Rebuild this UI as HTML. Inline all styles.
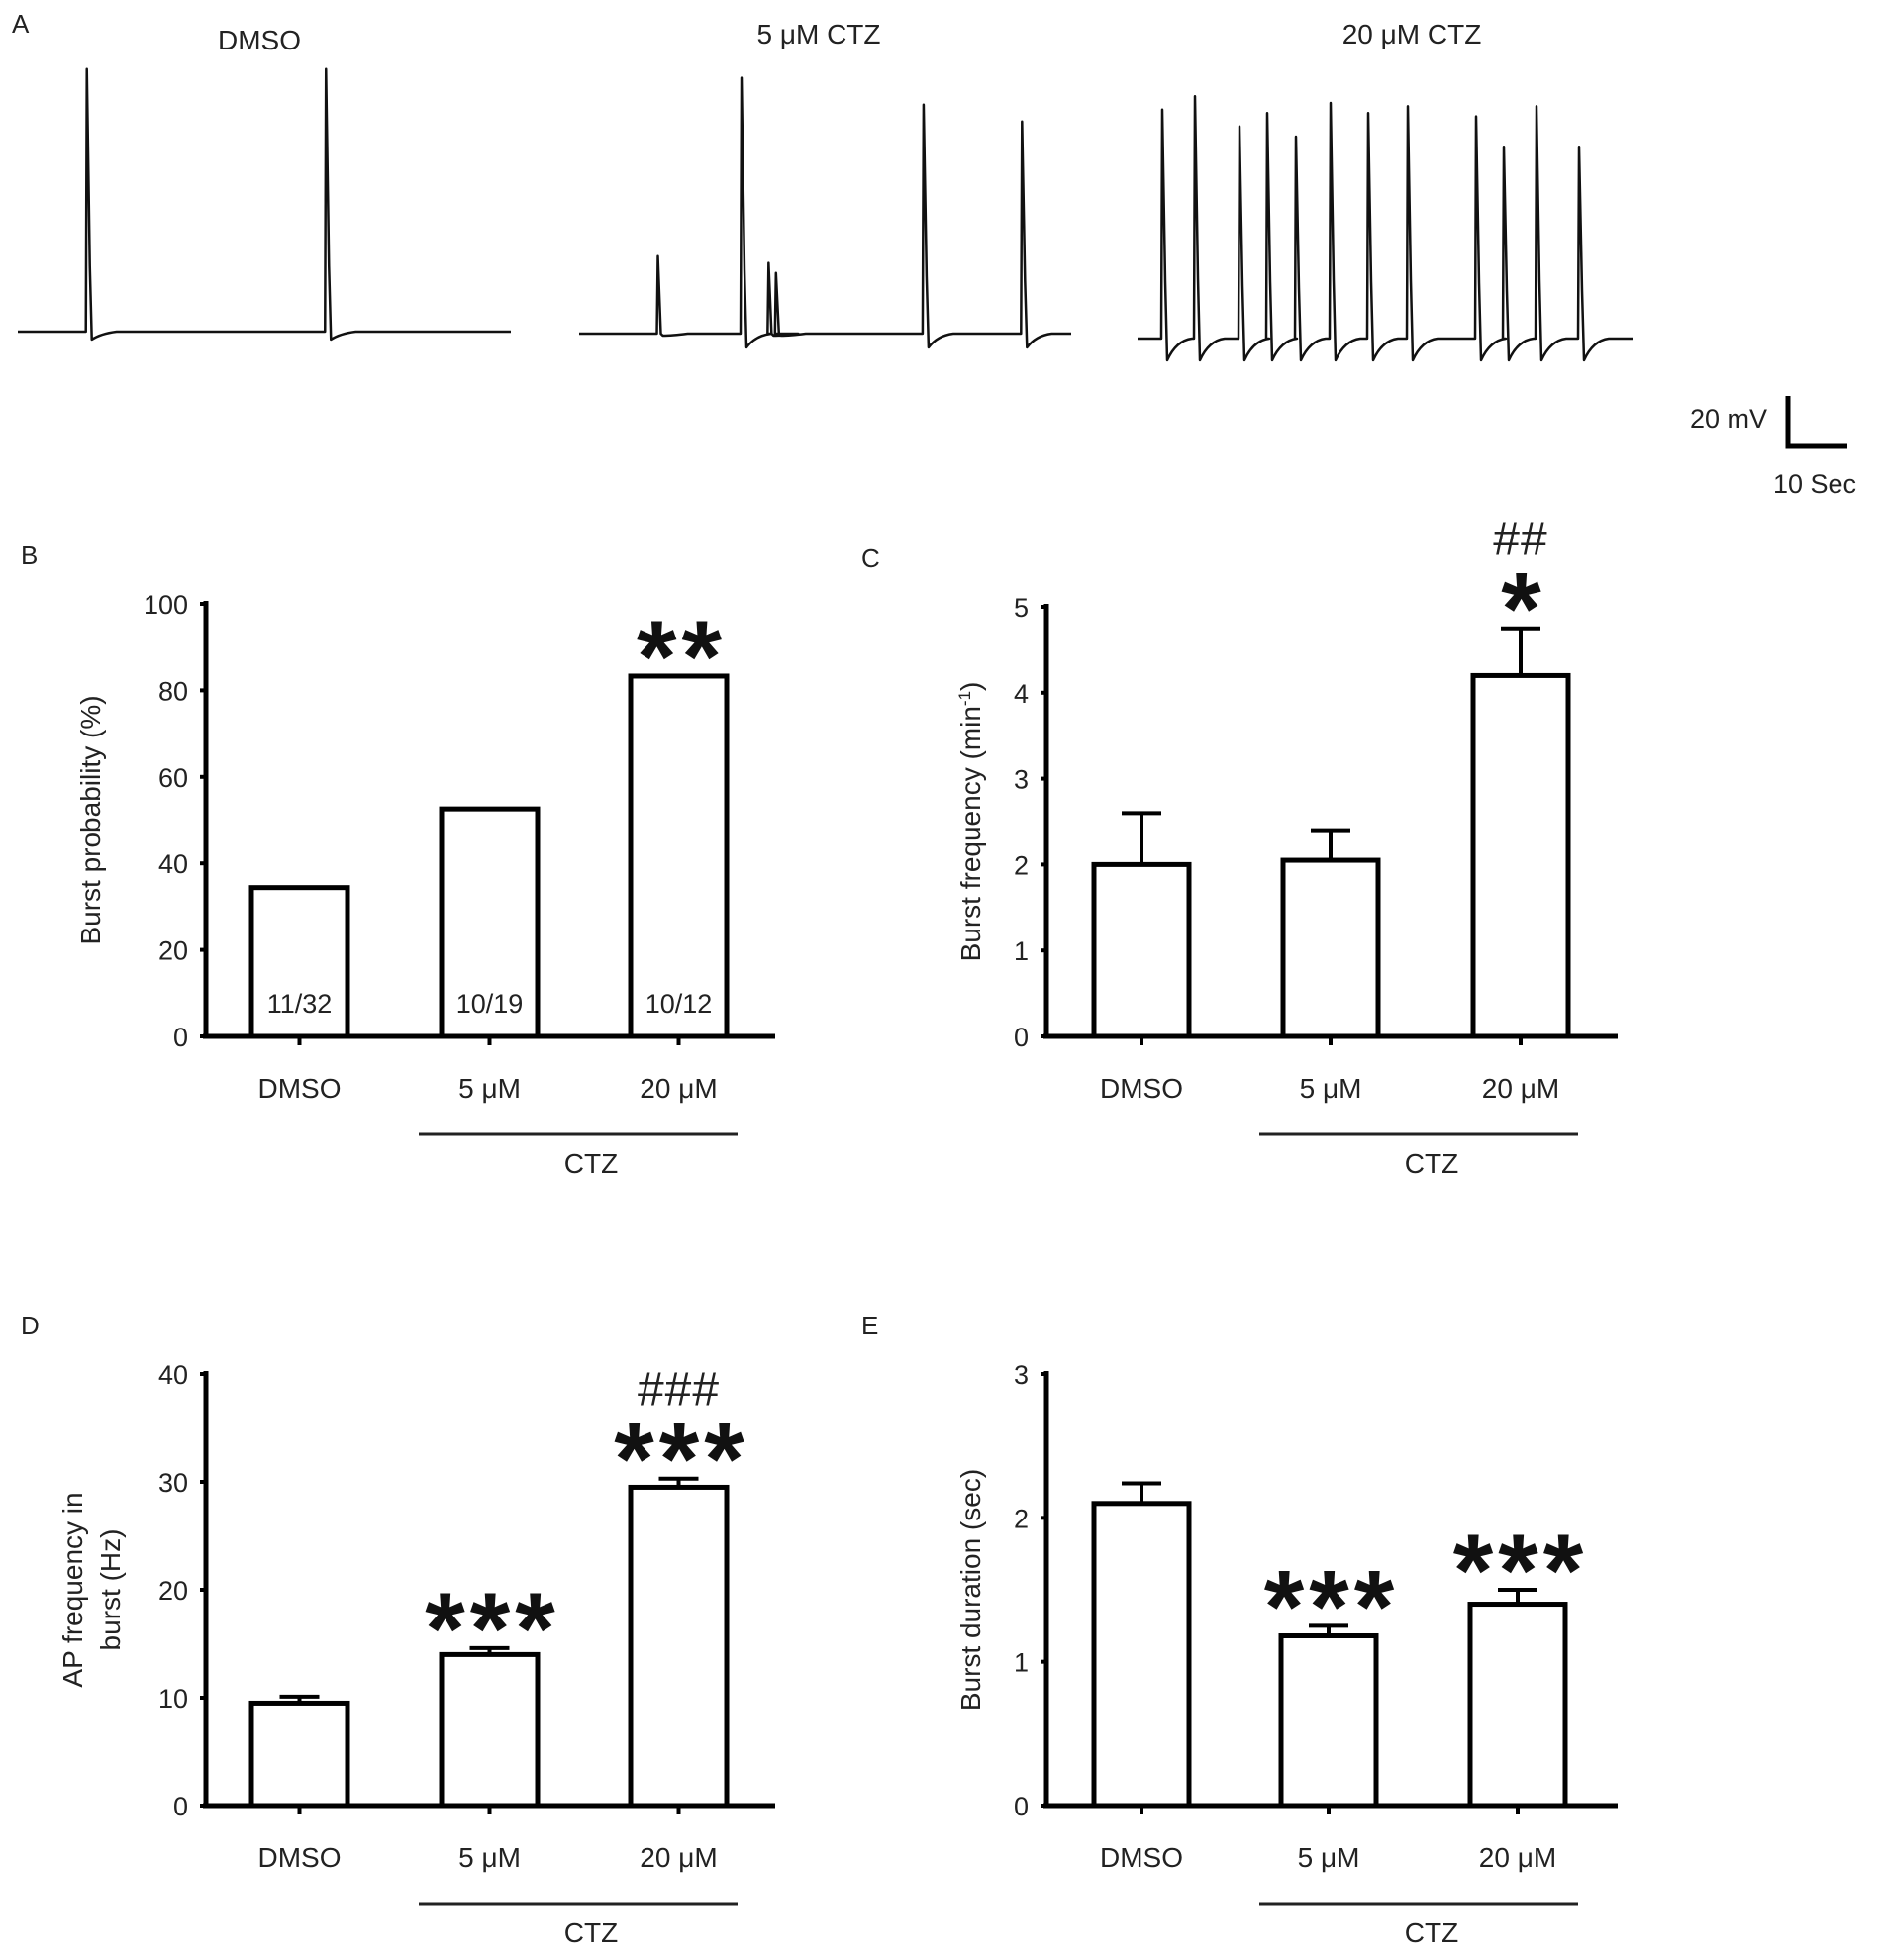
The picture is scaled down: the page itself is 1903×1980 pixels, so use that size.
<!DOCTYPE html>
<html><head><meta charset="utf-8"><style>
html,body{margin:0;padding:0;background:#fff;}
svg{display:block;font-family:"Liberation Sans",Arial,sans-serif;}
</style></head><body>
<svg id="fig" width="1903" height="1980" viewBox="0 0 1903 1980">
<g id="panelA"></g>
<g id="charts"></g>
</svg>
<script>
const NS='http://www.w3.org/2000/svg';
// ----- data -----
const categories=['DMSO','5 \u03bcM','20 \u03bcM'];
const probValues=[34.4,52.6,83.3];
const probCounts=['11/32','10/19','10/12'];
const freqValues=[2.0,2.05,4.2];
const freqErrors=[0.6,0.35,0.55];
const apValues=[9.5,14.0,29.5];
const apErrors=[0.6,0.6,0.8];
const durValues=[2.1,1.18,1.4];
const durErrors=[0.14,0.07,0.1];
const probTicks=[0,20,40,60,80,100];
const freqTicks=[0,1,2,3,4,5];
const apTicks=[0,10,20,30,40];
const durTicks=[0,1,2,3];
// trace spikes: [time fraction, peak height, gray?]
const dmsoSpikes=[[0.14,78,0],[0.625,78,0]];
const ctz5Spikes=[[0.16,23,0],[0.33,76,0],[0.385,21,0],[0.40,18,0],[0.70,68,0],[0.90,63,1]];
const ctz20Spikes=[[0.05,68,0],[0.116,72,0],[0.206,63,0],[0.262,67,0],[0.32,60,0],[0.39,70,0],[0.466,67,0],[0.546,69,0],[0.684,66,0],[0.74,57,1],[0.806,69,0],[0.892,57,1]];

function el(tag,attrs,parent,text){const e=document.createElementNS(NS,tag);for(const k in attrs)e.setAttribute(k,attrs[k]);if(text!==undefined)e.textContent=text;parent.appendChild(e);return e;}

// ----- panel A -----
const A=document.getElementById('panelA');
function label(txt,x,y,size,name,anchor){const t=el('text',{x:x,y:y,'font-size':size,'text-anchor':anchor||'start',fill:'#222'},A,txt);return t;}
label('A',12,33,26,'panel-a-label');
label('DMSO',262,50,28,'trace-title-dmso','middle');
label('5 \u03bcM CTZ',827,44,28,'trace-title-5um','middle');
label('20 \u03bcM CTZ',1426,44,28,'trace-title-20um','middle');
function trace(x0,x1,base,spikes,name,deep){
  const g=el('g',{},A);
  
  
  const w=x1-x0;const scale=3.4;
  let d='M'+x0+' '+base;
  const sorted=spikes.slice().sort((a,b)=>a[0]-b[0]);
  for(const s of sorted){
    const sx=x0+s[0]*w;
    d+=' L'+(sx-1)+' '+base;
    d+=' L'+sx+' '+(base-s[1]*scale)+' L'+(sx+3)+' '+(base-(s[1]>40?s[1]*0.25*scale:0))+' L'+(sx+5)+' '+(base+(s[1]>40?deep:2));
    d+=' Q'+(sx+14)+' '+(base+2)+' '+(sx+30)+' '+base;
  }
  d+=' L'+x1+' '+base;
  const p=el('path',{d:d,fill:'none',stroke:'#111','stroke-width':2.5,'stroke-linejoin':'round'},g);
  
  
}
trace(18,516,335,dmsoSpikes,'trace-dmso',8);
trace(585,1082,337,ctz5Spikes,'trace-5um',14);
trace(1149,1649,342,ctz20Spikes,'trace-20um',22);
const sb=el('path',{d:'M1806 400 L1806 451 L1866 451',fill:'none',stroke:'#000','stroke-width':5},A);


label('20 mV',1785,432,27,'scale-bar-mv','end');
label('10 Sec',1833,498,27,'scale-bar-sec','middle');

// ----- bar charts -----
const C=document.getElementById('charts');
function chart(o){
  const g=el('g',{},C);
  
  
  const ys=v=>o.y0-(v-o.ticks[0])/(o.ticks[o.ticks.length-1]-o.ticks[0])*(o.y0-o.yTop);
  const pl=el('text',{x:o.ax-187,y:o.yTop-40,'font-size':26,fill:'#222'},g,o.panel);
  
  
  const ya=el('line',{x1:o.ax,y1:o.yTop-3,x2:o.ax,y2:o.y0,stroke:'#000','stroke-width':5},g);
  
  
  const xa=el('line',{x1:o.ax-3,y1:o.y0,x2:o.axEnd,y2:o.y0,stroke:'#000','stroke-width':5},g);
  
  
  o.ticks.forEach(t=>{
    const y=ys(t);
    const tk=el('line',{x1:o.ax-6,y1:y,x2:o.ax,y2:y,stroke:'#000','stroke-width':4},g);
    
    
    const tl=el('text',{x:o.ax-18,y:y+10,'font-size':27,'text-anchor':'end',fill:'#222'},g,String(t));
    
    
  });
  o.values.forEach((v,i)=>{
    const bx=o.barX[i];const bw=o.bw;const cx=bx+bw/2;
    if(o.errors){
      const ey=ys(v+o.errors[i]);
      const e1=el('line',{x1:cx,y1:ys(v),x2:cx,y2:ey,stroke:'#000','stroke-width':4},g);
      
      
      const e2=el('line',{x1:cx-20,y1:ey,x2:cx+20,y2:ey,stroke:'#000','stroke-width':4},g);
      
      
    }
    const r=el('rect',{x:bx,y:ys(v),width:bw,height:o.y0-ys(v),fill:'#fff',stroke:'#000','stroke-width':5},g);
    
    
    const tk=el('line',{x1:cx,y1:o.y0,x2:cx,y2:o.y0+9,stroke:'#000','stroke-width':4},g);
    
    
    const xl=el('text',{x:cx,y:o.y0+62,'font-size':28,'text-anchor':'middle',fill:'#222'},g,categories[i]);
    
    
    if(o.counts){
      const ct=el('text',{x:cx,y:o.y0-24,'font-size':27,'text-anchor':'middle',fill:'#222'},g,o.counts[i]);
      
      
    }
    if(o.stars&&o.stars[i]){
      const top=ys(v+(o.errors?o.errors[i]:0));
      const st=el('text',{x:cx+3,y:top+16,'font-size':104,'font-weight':'bold','text-anchor':'middle',fill:'#111','letter-spacing':'5'},g,o.stars[i]);
      
      
      if(o.hashes&&o.hashes[i]){
        const h=el('text',{x:cx,y:top-74,'font-size':48,'text-anchor':'middle',fill:'#222','letter-spacing':'1'},g,o.hashes[i]);
        
        
      }
    }
  });
  const bl=el('line',{x1:o.ax+215,y1:o.y0+99,x2:o.ax+537,y2:o.y0+99,stroke:'#222','stroke-width':3},g);
  
  
  const ctz=el('text',{x:o.ax+389,y:o.y0+138,'font-size':28,'text-anchor':'middle',fill:'#222'},g,'CTZ');
  
  
  o.ylabel.forEach((ln,k)=>{
    const lx=o.ylx[k];const ly=(o.yTop+o.y0)/2;
    const t=el('text',{x:lx,y:ly,'font-size':28,'text-anchor':'middle',fill:'#222',transform:'rotate(-90 '+lx+' '+ly+')'},g);
    t.innerHTML=ln;
    
    
  });
}
chart({name:'chart-burst-probability',panel:'B',ax:208,axEnd:783,y0:1047,yTop:610,ticks:probTicks,values:probValues,counts:probCounts,barX:[254,446,637],bw:97,stars:['','','**'],ylabel:['Burst probability (%)'],ylx:[101]});
chart({name:'chart-burst-frequency',panel:'C',ax:1057,axEnd:1634,y0:1047,yTop:613,ticks:freqTicks,values:freqValues,errors:freqErrors,barX:[1105,1296,1488],bw:96,stars:['','','*'],hashes:['','','##'],ylabel:['Burst frequency (min<tspan font-size="17" dy="-10">-1</tspan><tspan dy="10">)</tspan>'],ylx:[990]});
chart({name:'chart-ap-frequency',panel:'D',ax:208,axEnd:783,y0:1824,yTop:1388,ticks:apTicks,values:apValues,errors:apErrors,barX:[254,446,637],bw:97,stars:['','***','***'],hashes:['','','###'],ylabel:['AP frequency in','burst (Hz)'],ylx:[83,121]});
chart({name:'chart-burst-duration',panel:'E',ax:1057,axEnd:1634,y0:1824,yTop:1388,ticks:durTicks,values:durValues,errors:durErrors,barX:[1105,1294,1485],bw:96,stars:['','***','***'],ylabel:['Burst duration (sec)'],ylx:[990]});
</script>
</body></html>
